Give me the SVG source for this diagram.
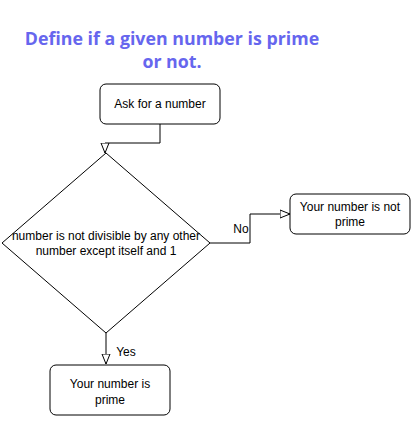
<svg xmlns="http://www.w3.org/2000/svg" width="411" height="425" viewBox="0 0 411 425">
<defs>
<style>
.box{fill:#fff;stroke:#000;stroke-width:1}
.lbl{font-family:"Liberation Sans",Arial,sans-serif;font-size:12px;fill:#000;text-anchor:middle}
.edge{fill:none;stroke:#000;stroke-width:1}
.title{font-family:"Open Sans","Noto Sans",sans-serif;font-weight:bold;font-size:17.8px;fill:#6666EE;text-anchor:middle}
</style>
<marker id="arr" viewBox="0 0 10 10" refX="10" refY="5" markerWidth="10" markerHeight="10" markerUnits="userSpaceOnUse" orient="auto">
<path d="M0,1 L10,5 L0,9 Z" fill="#fff" stroke="#000" stroke-width="1"/>
</marker>
</defs>
<rect width="411" height="425" fill="#fff"/>
<g id="title">
<text class="title" x="172" y="45">Define if a given number is prime</text>
<text class="title" x="172" y="68">or not.</text>
</g>
<g id="connectors">
<path class="edge" d="M160,124 V143 H105 V153" marker-end="url(#arr)"/>
<path class="edge" d="M210,243 H250 V214 H290" marker-end="url(#arr)"/>
<text class="lbl" x="241" y="233">No</text>
<path class="edge" d="M106,333 V364" marker-end="url(#arr)"/>
<text class="lbl" x="126" y="356">Yes</text>
</g>
<g id="ask">
<rect class="box" x="100" y="84" width="120" height="40" rx="6"/>
<text class="lbl" x="160" y="108">Ask for a number</text>
</g>
<g id="decision">
<path class="box" d="M106,153 L210,243 L106,333 L2,243 Z"/>
<text class="lbl" x="106" y="240">number is not divisible by any other</text>
<text class="lbl" x="106" y="255">number except itself and 1</text>
</g>
<g id="notprime">
<rect class="box" x="290" y="194" width="120" height="40" rx="6"/>
<text class="lbl" x="350" y="211">Your number is not</text>
<text class="lbl" x="350" y="226">prime</text>
</g>
<g id="prime">
<rect class="box" x="50" y="365" width="120" height="50" rx="6"/>
<text class="lbl" x="110" y="388">Your number is</text>
<text class="lbl" x="110" y="404">prime</text>
</g>
</svg>
